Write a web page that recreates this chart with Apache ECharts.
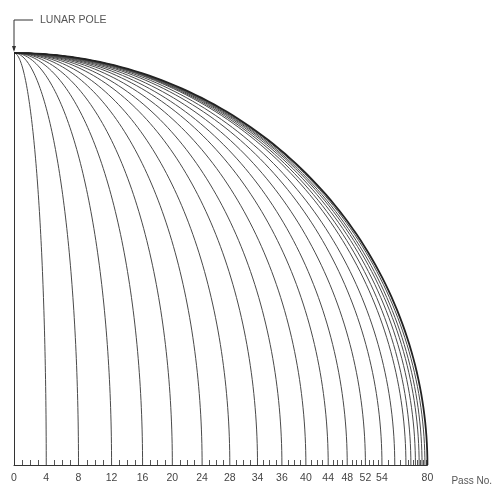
<!DOCTYPE html>
<html>
<head>
<meta charset="utf-8">
<script src="https://cdn.jsdelivr.net/npm/echarts@6/dist/echarts.min.js"></script>
<style>
html,body{margin:0;padding:0;background:#fff;}
#chart{width:495px;height:486px;}
</style>
</head>
<body>
<div id="chart"></div>
<script>
// Meridian foot positions along the equator (fraction of the globe radius)
var meridianPasses = [4, 8, 12, 16, 20, 24, 28, 32, 36, 40, 44, 48, 52, 56, 60, 64, 66, 68, 70, 72, 76, 80];
var meridianFeet   = [0.078, 0.156, 0.236, 0.311, 0.383, 0.455, 0.522, 0.589, 0.648, 0.706, 0.760, 0.806, 0.850, 0.890, 0.921, 0.948, 0.960, 0.971, 0.980, 0.987, 0.994, 1.0];
// Labelled tick positions and their texts
var labelFeet  = [0, 0.078, 0.156, 0.236, 0.311, 0.383, 0.455, 0.522, 0.589, 0.648, 0.706, 0.760, 0.806, 0.850, 0.890, 1.0];
var labelTexts = ['0','4','8','12','16','20','24','28','34','36','40','44','48','52','54','80'];
var poleValue = [0, 1];

// minor ticks: three per 4-pass interval between labelled meridians
var minorTicks = [];
var tickBase = [0].concat(meridianFeet.slice(0, 14));
for (var i = 0; i < tickBase.length - 1; i++) {
  for (var k = 1; k <= 3; k++) minorTicks.push(tickBase[i] + (tickBase[i+1] - tickBase[i]) * k / 4);
}
var tailBase = meridianFeet.slice(13);
for (var j = 0; j < tailBase.length - 1; j++) {
  minorTicks.push((tailBase[j] + tailBase[j+1]) / 2);
}

var chart = echarts.init(document.getElementById('chart'), null, {renderer: 'canvas'});
var FONT = 'Liberation Sans';

chart.setOption({
  animation: false,
  backgroundColor: '#fff',
  grid: {left: 14, right: 61, top: 53, bottom: 15},
  xAxis: {
    type: 'value', min: 0, max: 1,
    name: 'Pass No.',
    nameLocation: 'end',
    nameGap: 24,
    nameTextStyle: {color: '#555', fontSize: 10, fontFamily: FONT, verticalAlign: 'top', padding: [11, 0, 0, 0]},
    axisLine: {show: true, lineStyle: {color: '#333', width: 1}},
    axisTick: {show: true, inside: true, length: 5, customValues: minorTicks, lineStyle: {color: '#555', width: 1}},
    axisLabel: {
      show: true, customValues: labelFeet, margin: 8,
      color: '#444', fontSize: 10.5, fontFamily: FONT,
      formatter: function (v) {
        var best = 0, d = 1e9;
        for (var i = 0; i < labelFeet.length; i++) {
          var dd = Math.abs(labelFeet[i] - v);
          if (dd < d) { d = dd; best = i; }
        }
        return labelTexts[best];
      }
    },
    splitLine: {show: false}
  },
  yAxis: {
    type: 'value', min: 0, max: 1,
    axisLine: {show: true, onZero: false, lineStyle: {color: '#333', width: 1}},
    axisTick: {show: false},
    axisLabel: {show: false},
    splitLine: {show: false}
  },
  series: [{
    type: 'custom',
    coordinateSystem: 'cartesian2d',
    data: meridianFeet.map(function (f, i) { return [f, meridianPasses[i]]; }),
    renderItem: function (params, api) {
      var pole = api.coord(poleValue);
      var foot = api.coord([api.value(0), 0]);
      var rx = foot[0] - pole[0];
      var ry = foot[1] - pole[1];
      var pts = [];
      var N = 90;
      for (var s = 0; s <= N; s++) {
        var t = s / N * Math.PI / 2;
        pts.push([pole[0] + rx * Math.sin(t), foot[1] - ry * Math.cos(t)]);
      }
      var outer = api.value(0) >= 0.999;
      return {
        type: 'polyline',
        shape: {points: pts},
        style: {fill: null, stroke: outer ? '#222' : '#4a4a4a', lineWidth: outer ? 1.8 : 1}
      };
    }
  }]
});

var p = chart.convertToPixel({gridIndex: 0}, poleValue);
chart.setOption({
  graphic: [
    {type: 'polyline', shape: {points: [[p[0] + 19, p[1] - 33], [p[0], p[1] - 33], [p[0], p[1] - 3]]},
     style: {stroke: '#333', lineWidth: 1, fill: null}},
    {type: 'polygon', shape: {points: [[p[0] - 2, p[1] - 7], [p[0] + 2, p[1] - 7], [p[0], p[1] - 1]]},
     style: {fill: '#333'}},
    {type: 'text', x: p[0] + 26, y: p[1] - 33,
     style: {text: 'LUNAR POLE', fill: '#555', fontSize: 10.5, fontFamily: FONT, verticalAlign: 'middle', align: 'left'}}
  ]
});
</script>
</body>
</html>
